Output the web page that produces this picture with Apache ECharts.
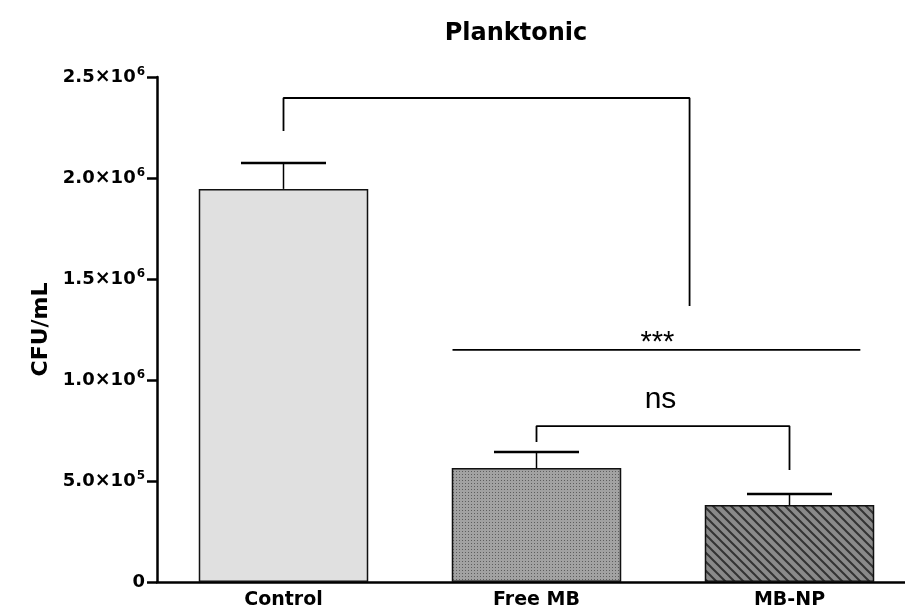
<!DOCTYPE html>
<html><head><meta charset="utf-8">
<script src="https://cdn.jsdelivr.net/npm/echarts@6/dist/echarts.min.js"></script>
<style>html,body{margin:0;padding:0;background:#fff}#c{width:905px;height:614px}</style>
</head><body><div id="c"></div>
<script>
const categories = ['Control', 'Free MB', 'MB-NP'];
const means = [1946000, 564000, 381000];
const errors = [128000, 80000, 55000];
const yTicks = [0, 500000, 1000000, 1500000, 2000000, 2500000];
// significance brackets: [x, y] in data units (x on continuous category scale)
const bracketTop = [[0, 2233000], [0, 2396000], [1.605, 2396000], [1.605, 1366000]];
const lineStars = [[0.668, 1149000], [2.28, 1149000]];
const bracketNs = [[1, 693000], [1, 772000], [2, 772000], [2, 554000]];
const sigLabels = [[1.478, 1183000, '***', 29], [1.49, 903000, 'ns', 30]];

function makePattern(kind){
  const c = document.createElement('canvas');
  if (kind === 'dots'){
    c.width = 3; c.height = 3;
    const g = c.getContext('2d');
    g.fillStyle = '#a2a2a2'; g.fillRect(0,0,3,3);
    g.fillStyle = '#5e5e5e'; g.fillRect(0,0,1,1);
  } else {
    c.width = 9; c.height = 9;
    const g = c.getContext('2d');
    g.fillStyle = '#8a8a8a'; g.fillRect(0,0,9,9);
    g.strokeStyle = '#333'; g.lineWidth = 2;
    g.beginPath();
    g.moveTo(-1,-1); g.lineTo(10,10);
    g.moveTo(-10,-1); g.lineTo(1,10);
    g.moveTo(8,-1); g.lineTo(19,10);
    g.stroke();
  }
  return c;
}
const fills = ['#e0e0e0', {image: makePattern('dots'), repeat: 'repeat'}, {image: makePattern('hatch'), repeat: 'repeat'}];

function fmtTick(v){
  if (v === 0) return '0';
  const e = Math.floor(Math.log10(v));
  const m = (v / Math.pow(10, e)).toFixed(1);
  return m + '{x|×}10{sup|' + e + '}';
}

const chart = echarts.init(document.getElementById('c'));
const lineStyle = {color: '#000', width: 1.8};
const boldFont = 'DejaVu Sans';
chart.setOption({
  animation: false,
  title: {text: 'Planktonic', left: 511, top: 17, textAlign: 'center',
    textStyle: {fontFamily: boldFont, fontWeight: 'bold', fontSize: 24, color: '#000'}},
  grid: {left: 157, width: 759, top: 77, bottom: 32, containLabel: false, outerBoundsMode: 'none'},
  xAxis: [{
    type: 'category', data: categories,
    axisLine: {lineStyle: {color: '#000', width: 2.5}},
    axisTick: {alignWithLabel: true, length: 8, lineStyle: {color: '#000', width: 2.5}},
    axisLabel: {fontFamily: boldFont, fontWeight: 'bold', fontSize: 19, color: '#000', margin: 9}
  }, {
    type: 'value', min: -0.5, max: 2.5, show: false
  }],
  yAxis: {
    type: 'value', min: 0, max: 2500000, interval: 500000,
    name: 'CFU/mL', nameLocation: 'middle', nameGap: 103, nameRotate: 90,
    nameTextStyle: {fontFamily: boldFont, fontWeight: 'bold', fontSize: 22, color: '#000'},
    axisLine: {show: true, onZero: false, lineStyle: {color: '#000', width: 2.5}},
    axisTick: {show: true, length: 10, lineStyle: {color: '#000', width: 2.5}},
    splitLine: {show: false},
    axisLabel: {
      formatter: fmtTick, margin: 12,
      fontFamily: boldFont, fontWeight: 'bold', fontSize: 18, color: '#000',
      rich: {
        x: {fontFamily: 'DejaVu Sans', fontSize: 19, color: '#000'},
        sup: {fontFamily: boldFont, fontWeight: 'bold', fontSize: 12, verticalAlign: 'bottom', padding: [0,0,10,1], color: '#000'}
      }
    }
  },
  series: [
    {
      type: 'bar', barWidth: '67%',
      data: means.map((v, i) => ({value: v, itemStyle: {color: fills[i]}})),
      itemStyle: {borderColor: '#111', borderWidth: 1.5}
    },
    {
      type: 'custom', z: 1,
      data: means.map((v, i) => [i, v, v + errors[i]]),
      renderItem: function(params, api){
        const base = api.coord([api.value(0), api.value(1)]);
        const top = api.coord([api.value(0), api.value(2)]);
        const half = api.size([1, 0])[0] * 0.168;
        return {type: 'group', children: [
          {type: 'line', shape: {x1: base[0], y1: base[1], x2: top[0], y2: top[1]}, style: {stroke: '#000', lineWidth: 1.5}},
          {type: 'line', shape: {x1: top[0] - half, y1: top[1], x2: top[0] + half, y2: top[1]}, style: {stroke: '#000', lineWidth: 2.5}}
        ]};
      }
    },
    {type: 'line', xAxisIndex: 1, data: bracketTop, symbol: 'none', lineStyle: lineStyle, z: 5},
    {type: 'line', xAxisIndex: 1, data: lineStars, symbol: 'none', lineStyle: lineStyle, z: 5},
    {type: 'line', xAxisIndex: 1, data: bracketNs, symbol: 'none', lineStyle: lineStyle, z: 5},
    {
      type: 'custom', xAxisIndex: 1, z: 6,
      data: sigLabels.map(d => [d[0], d[1]]),
      renderItem: function(params, api){
        const p = api.coord([api.value(0), api.value(1)]);
        const d = sigLabels[params.dataIndex];
        return {type: 'text', x: p[0], y: p[1], style: {
          text: d[2], fill: '#000', font: d[3] + 'px "Liberation Sans"',
          align: 'center', verticalAlign: 'middle'
        }};
      }
    }
  ]
});
</script></body></html>
